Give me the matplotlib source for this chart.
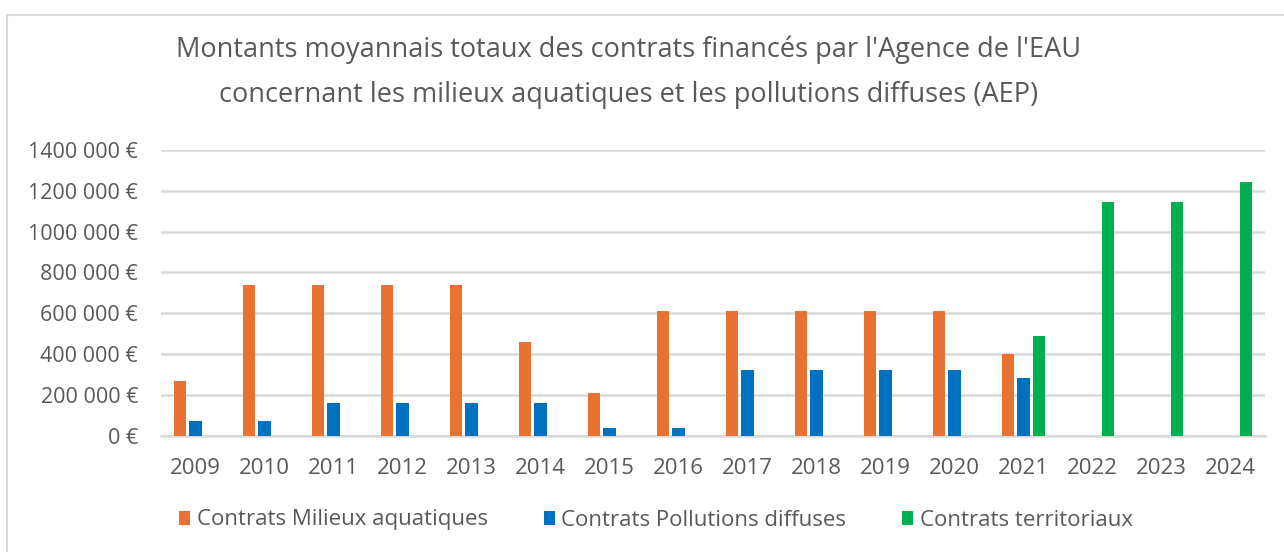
import numpy as np
import matplotlib.pyplot as plt
from matplotlib.patches import Rectangle
from matplotlib.ticker import FuncFormatter

years = ['2009', '2010', '2011', '2012', '2013', '2014', '2015', '2016',
         '2017', '2018', '2019', '2020', '2021', '2022', '2023', '2024']
milieux = [270000, 740000, 740000, 740000, 740000, 460000, 210000, 610000,
           610000, 610000, 610000, 610000, 400000, np.nan, np.nan, np.nan]
pollutions = [70000, 70000, 160000, 160000, 160000, 160000, 40000, 40000,
              320000, 320000, 320000, 320000, 285000, np.nan, np.nan, np.nan]
territoriaux = [np.nan] * 12 + [487000, 1147000, 1147000, 1245000]

labels = ['Contrats Milieux aquatiques', 'Contrats Pollutions diffuses', 'Contrats territoriaux']
colors = ['#E97132', '#0070C0', '#00B050']
txt = '#595959'

plt.rcParams['font.family'] = ['Open Sans', 'DejaVu Sans']

fig = plt.figure(figsize=(12.84, 5.52), dpi=100)
ax = fig.add_axes([161 / 1284, 1 - 435.7 / 552, (1265 - 161) / 1284, (435.7 - 150) / 552])

x = np.arange(len(years))
w = 0.18
off = 0.225
for i, (vals, lab) in enumerate(zip([milieux, pollutions, territoriaux], labels)):
    ax.bar(x + (i - 1) * off, vals, width=w, color=colors[i], label=lab, zorder=3)

ax.set_xlim(-0.5, len(years) - 0.5)
ax.set_ylim(0, 1400000)
ax.set_yticks(np.arange(0, 1400001, 200000))
ax.yaxis.set_major_formatter(FuncFormatter(lambda v, p: '0 €' if v == 0 else f'{int(v // 1000)} 000 €'))
ax.set_xticks(x)
ax.set_xticklabels(years)
ax.grid(axis='y', color='#D9D9D9', linewidth=1.8, zorder=0)
for s in ['top', 'right', 'left']:
    ax.spines[s].set_visible(False)
ax.spines['bottom'].set_color('#D9D9D9')
ax.spines['bottom'].set_linewidth(1.8)
ax.tick_params(axis='both', length=0, colors=txt)
ax.tick_params(axis='y', pad=16.5, labelsize=15.5)
ax.tick_params(axis='x', pad=16, labelsize=16)

fig.text(629 / 1284, 1 - 50 / 552, "Montants moyannais totaux des contrats financés par l'Agence de l'EAU",
         ha='center', va='center', fontsize=19.5, color=txt)
fig.text(629 / 1284, 1 - 95 / 552, "concernant les milieux aquatiques et les pollutions diffuses (AEP)",
         ha='center', va='center', fontsize=19.5, color=txt)

fig.legend(loc='center', bbox_to_anchor=(656 / 1284, 1 - 520 / 552), ncol=3, frameon=False,
           fontsize=16, labelcolor=txt, handlelength=0.5, handleheight=0.6, handletextpad=0.3,
           columnspacing=2.5)

fig.patches.append(Rectangle((7 / 1284, -0.05), 1.1, 1 - 14.5 / 552 + 0.05, transform=fig.transFigure,
                             fill=False, edgecolor='#D9D9D9', linewidth=1.5))

fig.savefig('out.png', dpi=100)
